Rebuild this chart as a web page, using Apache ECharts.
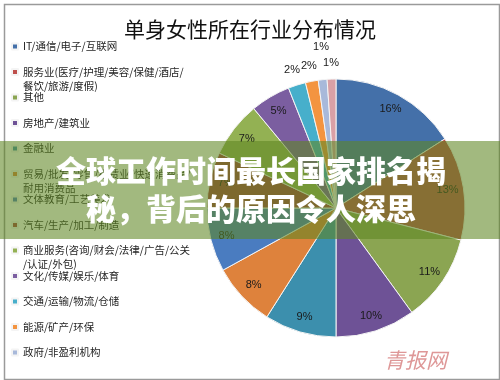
<!DOCTYPE html>
<html><head><meta charset="utf-8">
<script src="https://cdn.jsdelivr.net/npm/echarts@6/dist/echarts.min.js"></script>
<style>html,body{margin:0;padding:0;background:#fff}#c{width:500px;height:380px}</style>
</head><body><div id="c"></div>
<script>
// ---- data ----
const titleText = '单身女性所在行业分布情况';
const categories = [
  'IT/通信/电子/互联网',
  '服务业(医疗/护理/美容/保健/酒店/\n餐饮/旅游/度假)',
  '其他',
  '房地产/建筑业',
  '金融业',
  '贸易/批发/零售/租赁业/快速消费品/\n耐用消费品',
  '文体教育/工艺美术',
  '汽车/生产/加工/制造',
  '商业服务(咨询/财会/法律/广告/公关\n/认证/外包)',
  '文化/传媒/娱乐/体育',
  '交通/运输/物流/仓储',
  '能源/矿产/环保',
  '政府/非盈利机构',
  '其它行业'
];
const legendShown = 13;
const shares = [16, 13, 11, 10, 9, 8, 8, 7, 7, 5, 2.2, 1.6, 1.1, 1.1];
const colors = ['#4470A9', '#BE4F4C', '#8BA552', '#6E5296', '#3C8FAD', '#DE823C',
                '#4A7CC0', '#A8423F', '#93B153', '#7B5EA0', '#47AFCB', '#F39440',
                '#A8B9DA', '#D9A0A6'];
const bannerLines = ['全球工作时间最长国家排名揭', '秘，背后的原因令人深思'];
const watermark = '青报网';
const outsideThreshold = 5;

// ---- chart ----
const chart = echarts.init(document.getElementById('c'), null, {renderer: 'canvas'});
const baseData = categories.map((n, i) => ({name: n, value: shares[i]}));
const innerLabelData = categories.map((n, i) => ({name: n, value: shares[i], label: {show: shares[i] >= outsideThreshold}}));
const outerLabelData = categories.map((n, i) => ({name: n, value: shares[i], label: {show: shares[i] < outsideThreshold}}));

const labelStyle = {
  position: 'inside', formatter: '{d}%', color: '#1a1a1a',
  fontSize: 11, fontFamily: '"Liberation Sans", Arial, sans-serif'
};

const legendFont = '"Noto Sans CJK SC", sans-serif';
const legends = categories.slice(0, legendShown).map((n, i) => ({
  data: [n], orient: 'vertical', left: 11, top: 39.5 + i * 25.5,
  icon: 'rect', itemWidth: 6, itemHeight: 6, padding: 0, selectedMode: false,
  formatter: nm => nm.split('\n').map(s => '{t|' + s + '}').join('\n'),
  textStyle: {
    fontSize: 10.5, color: '#1f1f1f', fontFamily: legendFont,
    lineHeight: 14, height: 14,
    rich: {t: {fontSize: 10.5, lineHeight: 14, color: '#1f1f1f', fontFamily: legendFont}}
  }
}));

chart.setOption({
  animation: false,
  color: colors,
  title: {
    text: titleText, left: 'center', top: 14,
    textStyle: {fontSize: 21, fontWeight: 'normal', color: '#111', fontFamily: '"Noto Sans CJK SC", sans-serif'}
  },
  legend: legends,
  series: [
    {
      type: 'pie', center: [336, 208], radius: [0, 129], startAngle: 90, clockwise: true,
      percentPrecision: 0, data: baseData, label: {show: false}, labelLine: {show: false},
      itemStyle: {borderColor: '#f4f4f4', borderWidth: 1}, emphasis: {disabled: true}, silent: true
    },
    {
      type: 'pie', center: [336, 208], radius: [91, 129], startAngle: 90, clockwise: true,
      percentPrecision: 0, data: innerLabelData, label: labelStyle, labelLine: {show: false},
      itemStyle: {color: 'rgba(0,0,0,0)', borderWidth: 0}, emphasis: {disabled: true}, silent: true
    },
    {
      type: 'pie', center: [336, 208], radius: [129, 155], startAngle: 90, clockwise: true,
      percentPrecision: 0, data: outerLabelData, label: labelStyle, labelLine: {show: false},
      itemStyle: {color: 'rgba(0,0,0,0)', borderWidth: 0}, emphasis: {disabled: true}, silent: true,
      labelLayout: p => (p.dataIndex === 12 ? {dy: -17} : {})
    }
  ],
  graphic: [
    {type: 'rect', left: 2, top: 2, z: 10, shape: {width: 495, height: 375},
     style: {fill: 'none', stroke: '#9a9a9a', lineWidth: 1.5}, silent: true},
    {type: 'text', x: 384, y: 350, z: 10,
     style: {text: watermark, fill: 'rgba(205,95,95,0.65)', font: 'italic 21px "Noto Sans CJK SC", sans-serif'}, silent: true},
    {type: 'rect', left: 0, top: 141, z: 100, shape: {width: 500, height: 98},
     style: {fill: 'rgba(95,135,35,0.58)'}, silent: true},
    {type: 'text', x: 251, y: 190, z: 101,
     style: {text: bannerLines.join('\n'), fill: '#ffffff', align: 'center', verticalAlign: 'middle',
             font: '900 30px "Noto Sans CJK SC", sans-serif', lineHeight: 38,
             shadowColor: 'rgba(0,0,0,0.35)', shadowBlur: 3, shadowOffsetX: 1, shadowOffsetY: 1},
     silent: true}
  ]
});
</script>
</body></html>
